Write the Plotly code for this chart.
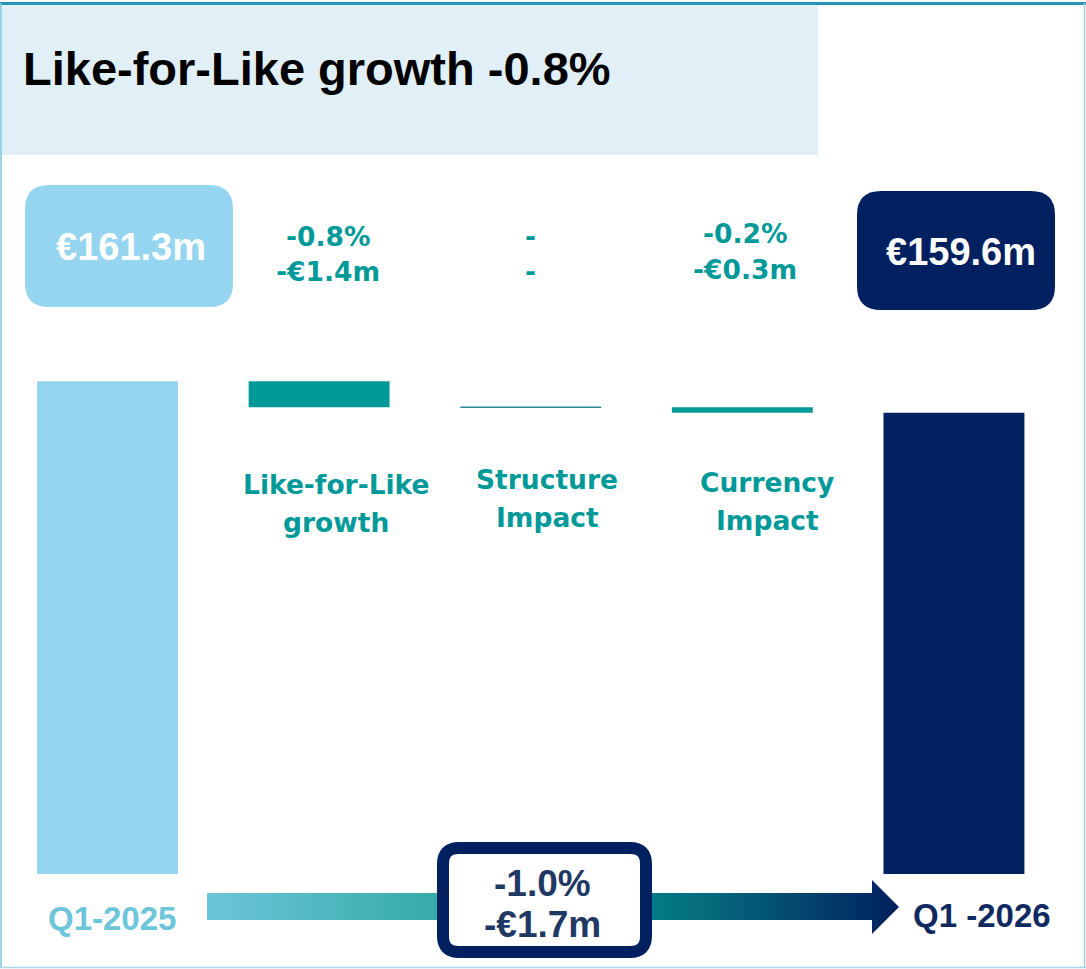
import plotly.graph_objects as go

# ---------------- data ----------------
categories = ["Q1-2025", "Like-for-Like growth", "Structure Impact", "Currency Impact", "Q1 -2026"]
start_value = 161.3
delta_values = [-1.4, 0.0, -0.3]
end_value = 159.6
delta_pct = ["-0.8%", "-", "-0.2%"]
delta_amt = ["-€1.4m", "-", "-€0.3m"]
category_lines = [["Like-for-Like", "growth"], ["Structure", "Impact"], ["Currency", "Impact"]]
total_pct = "-1.0%"
total_amt = "-€1.7m"
title_text = "Like-for-Like growth -0.8%"

# ---------------- styles ----------------
W, H = 1086, 969
LIGHT = "#95d5f0"
TEAL = "#009999"
NAVY = "#00205f"
TITLE_BG = "#e1f0f6"
ARIAL = "Liberation Sans, Arial, sans-serif"
GOTHIC = "DejaVu Sans, sans-serif"
BAR_W = 0.666

# running totals -> bases
bases = [0]
level = start_value
for d in delta_values:
    bases.append(level)
    level += d
bases.append(0)
values = [start_value] + delta_values + [end_value]
colors = [LIGHT] + [TEAL] * len(delta_values) + [NAVY]
xs = list(range(len(categories)))

fig = go.Figure()

fig.add_trace(go.Bar(
    x=xs, y=values, base=bases, width=BAR_W,
    marker=dict(color=colors, line=dict(width=0)),
    xaxis="x2", yaxis="y2", hoverinfo="skip", showlegend=False,
))

# zero-height steps drawn as a thin line at their level
shapes = []
for i, d in enumerate(delta_values, start=1):
    if d == 0:
        shapes.append(dict(type="line", xref="x2", yref="y2",
                           x0=i - BAR_W / 2, x1=i + BAR_W / 2,
                           y0=bases[i], y1=bases[i],
                           line=dict(color="#2a8a94", width=1.3), layer="above"))

# gradient arrow (pixel-space overlay axis)
ax0, ahx, atip = 207, 872, 899
ay0, ay1, ahy0, ahy1 = 893, 920, 880, 934
fig.add_trace(go.Scatter(
    x=[ax0, ahx, ahx, atip, ahx, ahx, ax0, ax0],
    y=[ay0, ay0, ahy0, (ahy0 + ahy1) / 2, ahy1, ay1, ay1, ay0],
    mode="lines", line=dict(width=0), fill="toself",
    fillgradient=dict(type="horizontal",
                      colorscale=[[0, "#6cc5d9"], [0.33, "#35aba9"], [0.5, "#019798"],
                                  [0.72, "#056b7d"], [1, NAVY]]),
    xaxis="x", yaxis="y", hoverinfo="skip", showlegend=False,
))


def rrect(x0, y0, x1, y1, r):
    return (f"M{x0 + r},{y0} L{x1 - r},{y0} Q{x1},{y0} {x1},{y0 + r} "
            f"L{x1},{y1 - r} Q{x1},{y1} {x1 - r},{y1} L{x0 + r},{y1} "
            f"Q{x0},{y1} {x0},{y1 - r} L{x0},{y0 + r} Q{x0},{y0} {x0 + r},{y0} Z")


# frame
shapes += [
    dict(type="rect", xref="x", yref="y", x0=0, x1=818, y0=5, y1=155,
         fillcolor=TITLE_BG, line=dict(width=0), layer="below"),
    dict(type="line", xref="x", yref="y", x0=0, x1=W, y0=3.5, y1=3.5,
         line=dict(color="#2494b5", width=3)),
    dict(type="line", xref="x", yref="y", x0=1, x1=1, y0=3, y1=968,
         line=dict(color="#7fc8de", width=1.5)),
    dict(type="line", xref="x", yref="y", x0=1084.5, x1=1084.5, y0=3, y1=968,
         line=dict(color="#a9cbd6", width=1.5)),
    dict(type="line", xref="x", yref="y", x0=0, x1=W, y0=967.5, y1=967.5,
         line=dict(color="#a6d8e6", width=1.5)),
    # start / end value boxes
    dict(type="path", xref="x", yref="y", path=rrect(25, 185, 233, 307, 24),
         fillcolor=LIGHT, line=dict(width=0)),
    dict(type="path", xref="x", yref="y", path=rrect(857, 191, 1055, 310, 24),
         fillcolor=NAVY, line=dict(width=0)),
    # total change box
    dict(type="path", xref="x", yref="y", path=rrect(443, 848, 646, 952, 16),
         fillcolor="white", line=dict(color=NAVY, width=12), layer="above"),
]

ann = []


def txt(x, y, s, size, color, family=GOTHIC, xanchor="center"):
    ann.append(dict(x=x, y=y, xref="x", yref="y", text=s, showarrow=False,
                    xanchor=xanchor, yanchor="middle",
                    font=dict(family=family, size=size, color=color, weight="bold")))


txt(21, 68, title_text, 47, "black", ARIAL, xanchor="left")
txt(131, 247, f"€{start_value:.1f}m", 38, "white", ARIAL)
txt(961, 252, f"€{end_value:.1f}m", 38, "white", ARIAL)

pct_x = [328, 530, 745]
pct_y = [(236, 271), (236, 271), (233, 269)]
for i in range(len(delta_pct)):
    txt(pct_x[i], pct_y[i][0], delta_pct[i], 26.5, TEAL)
    txt(pct_x[i], pct_y[i][1], delta_amt[i], 26.5, TEAL)

lab_x = [336, 547, 767]
lab_y = [(484, 522), (479, 517), (482, 520)]
for i, lines in enumerate(category_lines):
    txt(lab_x[i], lab_y[i][0], lines[0], 26.5, TEAL)
    txt(lab_x[i], lab_y[i][1], lines[1], 26.5, TEAL)

txt(112, 918, categories[0], 33, "#6cc5d8", ARIAL)
txt(982, 915, categories[-1], 33, "#0f2a60", ARIAL)
txt(542, 883, total_pct, 37, "#1f3864", ARIAL)
txt(542, 924, total_amt, 37, "#1f3864", ARIAL)

fig.update_layout(
    width=W, height=H, margin=dict(l=0, r=0, t=0, b=0),
    paper_bgcolor="white", plot_bgcolor="rgba(0,0,0,0)",
    showlegend=False, shapes=shapes, annotations=ann,
    xaxis=dict(domain=[0, 1], range=[0, W], visible=False, fixedrange=True),
    yaxis=dict(domain=[0, 1], range=[H, 0], visible=False, fixedrange=True),
    xaxis2=dict(domain=[0, 1], anchor="y2", range=[-0.508, 4.624], visible=False, fixedrange=True),
    yaxis2=dict(domain=[1 - 874 / H, 1], anchor="x2", range=[134.8, 181.8], visible=False, fixedrange=True),
)

fig.write_html("out.html", config={"displayModeBar": False},
               post_script="document.body.style.margin='0';")
